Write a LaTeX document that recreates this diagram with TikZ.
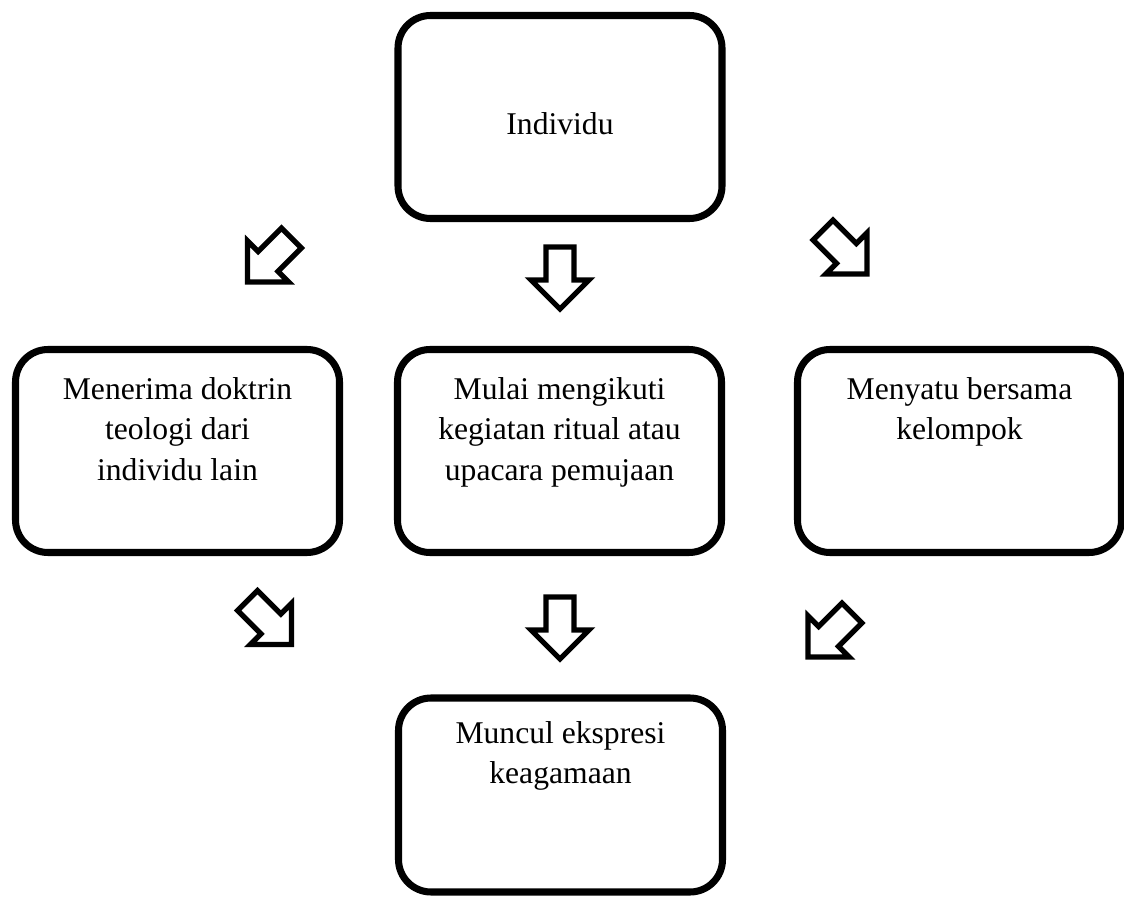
\documentclass[tikz,border=0pt]{standalone}
\usepackage{fontspec}
\setmainfont{Liberation Serif}
\usetikzlibrary{positioning}
\tikzset{
    box/.style={draw, line width=4pt, rounded corners=0.65cm, minimum width=6.48cm, minimum height=4.06cm, inner sep=0pt, font=\fontsize{18}{23}\selectfont},
    blockarrow/.pic={\draw[line width=3pt, fill=white, miter limit=10] (-0.28,0.62) -- (0.28,0.62) -- (0.28,-0.04) -- (0.58,-0.04) -- (0,-0.62) -- (-0.58,-0.04) -- (-0.28,-0.04) -- cycle;}
}
\newcommand{\boxtext}[1]{\parbox[c][3.2cm][t]{6.2cm}{\centering\strut #1}}

\begin{document}
\begin{tikzpicture}
        \useasboundingbox (0,0) rectangle (22.48,17.94);
        \node[box, text height=0.72cm] (1) at (11.2,15.6) {Individu};
        \node[box] (2) at (3.55,8.92) {\boxtext{Menerima doktrin\\ teologi dari\\ individu lain}};
        \node[box] (3) at (11.19,8.92) {\boxtext{Mulai mengikuti\\ kegiatan ritual atau\\ upacara pemujaan}};
        \node[box] (4) at (19.19,8.92) {\boxtext{Menyatu bersama\\ kelompok}};
        \node[box, minimum height=3.88cm] (5) at (11.21,2.04) {\boxtext{Muncul ekspresi\\ keagamaan}};
        \pic[rotate=-45] at (5.39,12.74) {blockarrow};
        \pic at (11.2,12.38) {blockarrow};
        \pic[rotate=45] at (16.9,12.9) {blockarrow};
        \pic[rotate=45] at (5.39,5.49) {blockarrow};
        \pic at (11.2,5.38) {blockarrow};
        \pic[rotate=-45] at (16.6,5.24) {blockarrow};
    \end{tikzpicture}
\end{document}
